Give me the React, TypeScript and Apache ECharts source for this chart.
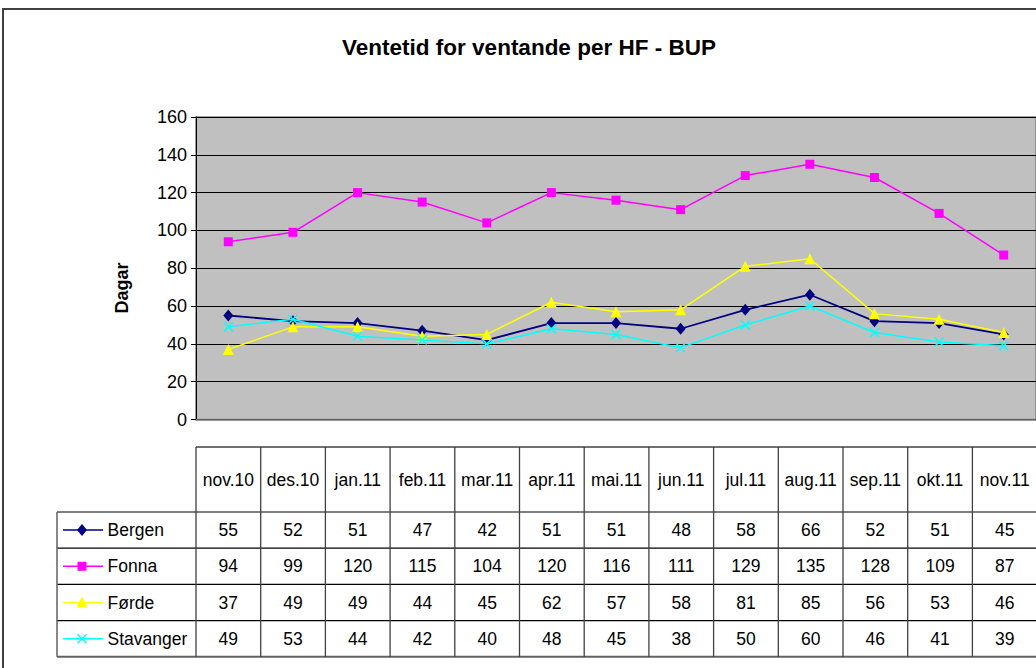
import React, { useEffect, useRef } from 'react';
import * as echarts from 'echarts';

const categories = ['nov.10', 'des.10', 'jan.11', 'feb.11', 'mar.11', 'apr.11', 'mai.11', 'jun.11', 'jul.11', 'aug.11', 'sep.11', 'okt.11', 'nov.11'];
const bergen = [55, 52, 51, 47, 42, 51, 51, 48, 58, 66, 52, 51, 45];
const fonna = [94, 99, 120, 115, 104, 120, 116, 111, 129, 135, 128, 109, 87];
const forde = [37, 49, 49, 44, 45, 62, 57, 58, 81, 85, 56, 53, 46];
const stavanger = [49, 53, 44, 42, 40, 48, 45, 38, 50, 60, 46, 41, 39];
const seriesNames = ['Bergen', 'Fonna', 'Førde', 'Stavanger'];
const seriesColors = ['#000080', '#FF00FF', '#FFFF00', '#00FFFF'];
const seriesData = [bergen, fonna, forde, stavanger];
const yMin = 0;
const yMax = 160;
const yInterval = 20;
const titleText = 'Ventetid for ventande per HF - BUP';
const yAxisName = 'Dagar';

const FONT = '"Liberation Sans", Arial, sans-serif';
const TABLE_FS = 17.5;
const PLOT_LEFT = 196;
const PLOT_TOP = 117;
const PLOT_HEIGHT = 302.5;
const COL_W = 64.7;
const TABLE_TOP = 447;
const HEADER_BOTTOM = 512;
const ROW_H = 36.2;
const LEGEND_LEFT = 57;
const RIGHT_END = 1040;

const XSYMBOL = 'path://M0,0L10,10M10,0L0,10';
const symbols = ['diamond', 'rect', 'triangle', XSYMBOL];
const symbolSizes: any[] = [[10, 12], 9, 11, 9];

function markerGraphic(i: number, cx: number, cy: number): any[] {
  const c = seriesColors[i];
  if (i === 0) {
    return [{ type: 'polygon', shape: { points: [[cx, cy - 6], [cx + 5, cy], [cx, cy + 6], [cx - 5, cy]] }, style: { fill: c } }];
  }
  if (i === 1) {
    return [{ type: 'rect', shape: { x: cx - 4.5, y: cy - 4.5, width: 9, height: 9 }, style: { fill: c } }];
  }
  if (i === 2) {
    return [{ type: 'polygon', shape: { points: [[cx, cy - 6], [cx + 5.5, cy + 5], [cx - 5.5, cy + 5]] }, style: { fill: c } }];
  }
  return [
    { type: 'line', shape: { x1: cx - 4.5, y1: cy - 4.5, x2: cx + 4.5, y2: cy + 4.5 }, style: { stroke: c, lineWidth: 1.5 } },
    { type: 'line', shape: { x1: cx + 4.5, y1: cy - 4.5, x2: cx - 4.5, y2: cy + 4.5 }, style: { stroke: c, lineWidth: 1.5 } },
  ];
}

function buildGraphic(): any[] {
  const g: any[] = [];
  // outer border
  g.push({ type: 'rect', shape: { x: 3, y: 9, width: 1100, height: 700 }, style: { fill: 'none', stroke: '#404040', lineWidth: 2 } });
  // title
  g.push({ type: 'text', x: 529, y: 47, style: { text: titleText, fontSize: 22.5, fontWeight: 'bold', fontFamily: FONT, fill: '#000', align: 'center', verticalAlign: 'middle' } });
  // y axis name
  g.push({ type: 'text', x: 122, y: 288, rotation: Math.PI / 2, style: { text: yAxisName, fontSize: 18, fontWeight: 'bold', fontFamily: FONT, fill: '#000', align: 'center', verticalAlign: 'middle' } });

  const n = categories.length;
  const tableBottom = HEADER_BOTTOM + ROW_H * seriesNames.length;
  // horizontal lines
  g.push({ type: 'line', shape: { x1: PLOT_LEFT, y1: TABLE_TOP, x2: RIGHT_END, y2: TABLE_TOP }, style: { stroke: '#404040', lineWidth: 1.5 } });
  for (let r = 0; r <= seriesNames.length; r++) {
    const y = HEADER_BOTTOM + r * ROW_H;
    g.push({ type: 'line', shape: { x1: LEGEND_LEFT, y1: y, x2: RIGHT_END, y2: y }, style: { stroke: r === seriesNames.length ? '#606060' : '#000', lineWidth: r === seriesNames.length ? 2 : 1.2 } });
  }
  // vertical lines
  g.push({ type: 'line', shape: { x1: LEGEND_LEFT, y1: HEADER_BOTTOM, x2: LEGEND_LEFT, y2: tableBottom }, style: { stroke: '#606060', lineWidth: 1.5 } });
  for (let k = 0; k <= n; k++) {
    const x = PLOT_LEFT + k * COL_W;
    g.push({ type: 'line', shape: { x1: x, y1: TABLE_TOP, x2: x, y2: tableBottom }, style: { stroke: '#404040', lineWidth: 1.3 } });
  }
  // header texts
  const headerY = (TABLE_TOP + HEADER_BOTTOM) / 2;
  categories.forEach((c, i) => {
    g.push({ type: 'text', x: PLOT_LEFT + (i + 0.5) * COL_W, y: headerY, style: { text: c, fontSize: TABLE_FS, fontFamily: FONT, fill: '#000', align: 'center', verticalAlign: 'middle' } });
  });
  // rows
  seriesNames.forEach((name, r) => {
    const cy = HEADER_BOTTOM + (r + 0.5) * ROW_H;
    g.push({ type: 'line', shape: { x1: LEGEND_LEFT + 6, y1: cy, x2: LEGEND_LEFT + 46, y2: cy }, style: { stroke: seriesColors[r], lineWidth: 1.5 } });
    markerGraphic(r, LEGEND_LEFT + 25, cy).forEach((m) => g.push(m));
    g.push({ type: 'text', x: LEGEND_LEFT + 50.5, y: cy, style: { text: name, fontSize: TABLE_FS, fontFamily: FONT, fill: '#000', align: 'left', verticalAlign: 'middle' } });
    seriesData[r].forEach((v, i) => {
      g.push({ type: 'text', x: PLOT_LEFT + (i + 0.5) * COL_W, y: cy, style: { text: String(v), fontSize: TABLE_FS, fontFamily: FONT, fill: '#000', align: 'center', verticalAlign: 'middle' } });
    });
  });
  return g;
}

export default function App() {
  const ref = useRef<HTMLDivElement>(null);
  useEffect(() => {
    document.body.style.margin = '0';
    const chart = echarts.init(ref.current!, null, { renderer: 'svg' });
    chart.setOption({
      animation: false,
      backgroundColor: '#FFFFFF',
      grid: {
        left: PLOT_LEFT,
        top: PLOT_TOP,
        width: COL_W * categories.length,
        height: PLOT_HEIGHT,
        show: true,
        backgroundColor: '#C0C0C0',
        borderColor: '#808080',
        borderWidth: 1.5,
        containLabel: false,
      },
      xAxis: {
        type: 'category',
        data: categories,
        boundaryGap: true,
        axisLabel: { show: false },
        axisTick: { show: false },
        axisLine: { show: true, lineStyle: { color: '#808080', width: 1.5 } },
        splitLine: { show: false },
      },
      yAxis: {
        type: 'value',
        min: yMin,
        max: yMax,
        interval: yInterval,
        axisLine: { show: true, lineStyle: { color: '#000', width: 1 } },
        axisTick: { show: true, length: 5, lineStyle: { color: '#000' } },
        axisLabel: { fontSize: 18, fontFamily: FONT, color: '#000', margin: 9 },
        splitLine: { show: true, lineStyle: { color: '#000', width: 1 } },
      },
      series: seriesNames.map((name, i) => ({
        name,
        type: 'line',
        data: seriesData[i],
        symbol: symbols[i],
        symbolSize: symbolSizes[i],
        showAllSymbol: true,
        lineStyle: { color: seriesColors[i], width: i === 0 ? 1.8 : 1.5 },
        itemStyle: i === 3
          ? { color: 'transparent', borderColor: seriesColors[i], borderWidth: 1.5 }
          : { color: seriesColors[i] },
        z: 2 + i,
      })),
      graphic: buildGraphic(),
    });
    return () => chart.dispose();
  }, []);
  return <div ref={ref} style={{ width: 1036, height: 668, position: 'absolute', left: 0, top: 0 }} />;
}
